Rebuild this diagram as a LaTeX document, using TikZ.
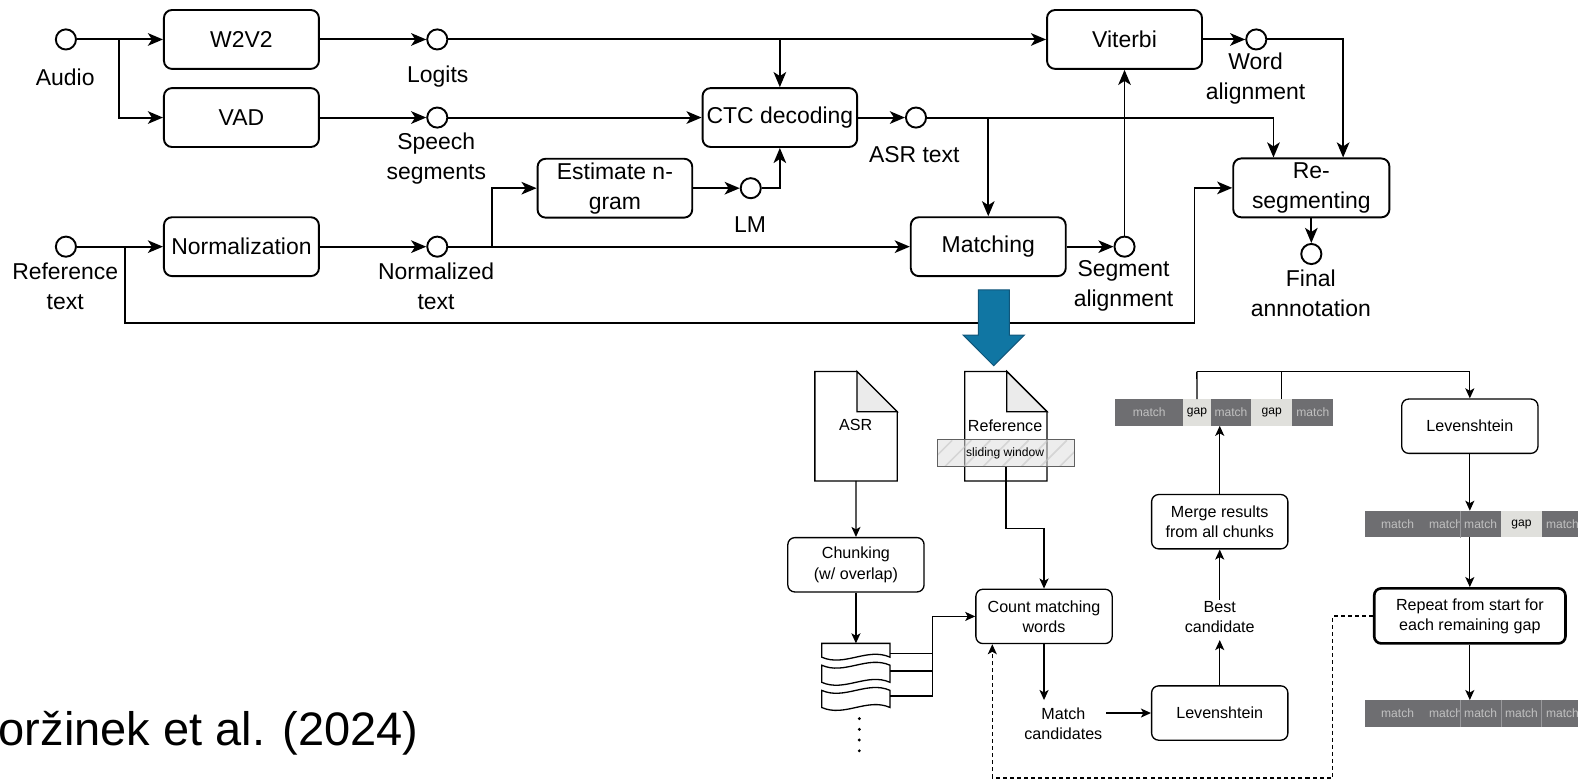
\documentclass[tikz,border=0pt]{standalone}
\usepackage{fontspec}
\setmainfont{Liberation Sans}
\usetikzlibrary{arrows.meta,calc}
\definecolor{barfill}{RGB}{110,110,113}
\definecolor{gapfill}{RGB}{224,224,220}
\definecolor{matchtxt}{RGB}{192,192,192}
\definecolor{bluefill}{RGB}{16,118,163}
\definecolor{blueline}{RGB}{16,86,122}
\definecolor{foldfill}{RGB}{235,235,235}
\begin{document}
\begin{tikzpicture}[x=1pt,y=-1pt,
  tl/.style={line width=1.9pt, -{Stealth[length=15pt,width=12.5pt,inset=4pt]}},
  tbox/.style={draw, line width=1.9pt, rounded corners=8pt, minimum width=154pt, minimum height=58.5pt, inner sep=0pt, align=center, font=\fontsize{22.8}{29.8}\selectfont},
  tcirc/.style={draw, circle, line width=1.9pt, minimum size=20pt, inner sep=0pt},
  tlab/.style={align=center, inner sep=0pt, font=\fontsize{22.8}{29.8}\selectfont},
  bl/.style={line width=1.3pt, -{Stealth[length=10pt,width=9pt,inset=2.5pt]}},
  bln/.style={line width=1.3pt},
  bbox/.style={draw, line width=1.3pt, rounded corners=7pt, minimum width=135.4pt, minimum height=54pt, inner sep=0pt, align=center, font=\fontsize{16}{20}\selectfont},
  blab/.style={align=center, inner sep=0pt, font=\fontsize{16}{20}\selectfont},
  mseg/.style={fill=barfill, text=matchtxt, minimum height=26.4pt, inner sep=0pt, anchor=west, font=\fontsize{12}{14}\selectfont},
  gseg/.style={fill=gapfill, text=black, minimum height=26.4pt, inner sep=0pt, anchor=west, font=\fontsize{12}{14}\selectfont},
  mtxt/.style={text=matchtxt, inner sep=0pt, font=\fontsize{12}{14}\selectfont},
  divl/.style={draw=barfill!70!white, line width=0.6pt},
]
\useasboundingbox (0,0) rectangle (1568,776);
\clip (0,0) rectangle (1568,776);

% ---------------- top pipeline ----------------
\node[tcirc] (audio) at (65.5,39.2) {};
\node[tlab] (audiol) at (64.8,76.5) {Audio};
\node[tbox] (w2v2) at (239.9,39.2) {W2V2};
\node[tbox] (vad) at (239.9,116.8) {VAD};
\node[tcirc] (ref) at (65.5,245.1) {};
\node[tlab] (refl) at (64.8,284.5) {Reference\\text};
\node[tbox] (norm) at (239.9,245.1) {Normalization};
\node[tcirc] (logits) at (434.5,39.2) {};
\node[tlab] (logitsl) at (435,76.5) {Logits};
\node[tcirc] (speech) at (434.5,116.8) {};
\node[tlab] (speechl) at (433.5,157.5) {Speech\\segments};
\node[tcirc] (normd) at (434.5,245.1) {};
\node[tlab] (normdl) at (433.3,284.5) {Normalized\\text};
\node[tbox, minimum width=153.6pt] (ctc) at (774.9,116.8) {CTC decoding};
\node[tcirc] (asr) at (910.2,116.8) {};
\node[tlab] (asrl) at (908.5,154) {ASR text};
\node[tbox, minimum width=153.7pt] (est) at (611,187) {Estimate n-\\gram};
\node[tcirc] (lm) at (746,187) {};
\node[tlab] (lml) at (745.3,223.6) {LM};
\node[tbox] (match) at (982,245.1) {Matching};
\node[tbox] (vit) at (1117.4,39.2) {Viterbi};
\node[tcirc] (seg) at (1117.4,245.1) {};
\node[tlab] (segl) at (1116.4,284.5) {Segment\\alignment};
\node[tcirc] (word) at (1248.3,39.2) {};
\node[tlab] (wordl) at (1247.6,78.5) {Word\\alignment};
\node[tbox, minimum width=155.2pt] (reseg) at (1303,186.7) {Re-\\segmenting};
\node[tcirc] (final) at (1303,252.4) {};
\node[tlab] (finall) at (1302.5,291.5) {Final\\annnotation};

\coordinate (ja) at (118.3,39.2);
\coordinate (jl) at (774.9,39.2);
\coordinate (rsax) at (1265.4,116.8);
\coordinate (jasr) at (982,116.8);
\coordinate (jn) at (488.8,245.1);
\coordinate (rsbx) at (1334.6,39.2);
\coordinate (jr) at (124.3,245.1);
\coordinate (rb1) at (124.3,321);
\coordinate (rb2) at (1186.9,321);

\draw[tl] (audio) -- (w2v2);
\draw[tl] (ja) |- (vad);
\draw[tl] (w2v2) -- (logits);
\draw[tl] (logits) -- (vit);
\draw[tl] (jl) -- (ctc);
\draw[tl] (vad) -- (speech);
\draw[tl] (speech) -- (ctc);
\draw[tl] (ctc) -- (asr);
\draw[tl] (asr) -- (rsax) -- (rsax |- reseg.north);
\draw[tl] (jasr) -- (match);
\draw[tl] (est) -- (lm);
\draw[tl] (lm) -| (ctc);
\draw[tl] (ref) -- (norm);
\draw[tl] (norm) -- (normd);
\draw[tl] (normd) -- (match);
\draw[tl] (jn) |- (est);
\draw[tl] (match) -- (seg);
\draw[tl] (seg) -- (vit);
\draw[tl] (vit) -- (word);
\draw[tl] (word) -- (rsbx) -- (rsbx |- reseg.north);
\draw[tl] (reseg) -- (final);
\draw[tl] (jr) -- (rb1) -- (rb2) |- (reseg);

% big blue arrow
\fill[bluefill, draw=blueline, line width=1pt] (972.2,288) -- (1003,288) -- (1003,332.9) -- (1017.8,332.9) -- (987.4,363.4) -- (957,332.9) -- (972.2,332.9) -- cycle;

% ---------------- bottom detail ----------------
% documents
\node[minimum width=81.4pt, minimum height=108.4pt, inner sep=0pt] (asrdoc) at (850.6,423.5) {};
\draw[bln, fill=white] (asrdoc.north west) -- ($(asrdoc.north east)+(-40,0)$) -- ($(asrdoc.north east)+(0,40)$) -- (asrdoc.south east) -- (asrdoc.south west) -- cycle;
\draw[bln, fill=foldfill] ($(asrdoc.north east)+(-40,0)$) -- ($(asrdoc.north east)+(-40,40)$) -- ($(asrdoc.north east)+(0,40)$) -- cycle;
\node[blab] (asrt) at (850.3,422.6) {ASR};

\node[minimum width=81.4pt, minimum height=108.4pt, inner sep=0pt] (refdoc) at (999.5,423.5) {};
\draw[bln, fill=white] (refdoc.north west) -- ($(refdoc.north east)+(-40,0)$) -- ($(refdoc.north east)+(0,40)$) -- (refdoc.south east) -- (refdoc.south west) -- cycle;
\draw[bln, fill=foldfill] ($(refdoc.north east)+(-40,0)$) -- ($(refdoc.north east)+(-40,40)$) -- ($(refdoc.north east)+(0,40)$) -- cycle;
\node[blab] (reft) at (998.7,422.6) {Reference};

% sliding window
\node[minimum width=135.4pt, minimum height=26.5pt, inner sep=0pt] (sw) at (999.5,450.5) {};
\fill[gray!25, fill opacity=0.55] (sw.north west) rectangle (sw.south east);
\begin{scope}
  \clip (sw.north west) rectangle (sw.south east);
  \foreach \k in {0,...,8} {
    \draw[gray!45, line width=1.6pt, opacity=0.6] ($(sw.south west)+(\k*19-12,0)$) -- ++(26.5,-26.5);
  }
\end{scope}
\draw[line width=1pt, draw=gray!75!black] (sw.north west) rectangle (sw.south east);
\node[inner sep=0pt, font=\fontsize{12}{14}\selectfont] (swt) at (998.7,450.5) {sliding window};

% boxes
\node[bbox] (chunk) at (850.5,561.2) {Chunking\\(w/ overlap)};
\node[bbox] (count) at (1037.4,612.5) {Count matching\\words};
\node[blab] (mc) at (1056.6,718.8) {Match\\candidates};
\node[bbox] (lev2) at (1212,708.5) {Levenshtein};
\node[blab] (bc) at (1212,612.8) {Best\\candidate};
\node[bbox] (merge) at (1212,518.4) {Merge results\\from all chunks};
\node[bbox] (lev1) at (1460.5,423.5) {Levenshtein};
\node[bbox, line width=2.6pt, minimum width=190pt, minimum height=54.7pt] (rep) at (1460.5,612) {Repeat from start for\\each remaining gap};

% chunks
\draw[bln, fill=white] (816.5,639.3) -- (884.4,639.3) -- (884.4,653) .. controls (861.8,643) and (839.1,663) .. (816.5,653) -- cycle;
\draw[bln, fill=white] (816.5,661) .. controls (839.1,671) and (861.8,651) .. (884.4,661) -- (884.4,678) .. controls (861.8,668) and (839.1,688) .. (816.5,678) -- cycle;
\draw[bln, fill=white] (816.5,686) .. controls (839.1,696) and (861.8,676) .. (884.4,686) -- (884.4,703) .. controls (861.8,693) and (839.1,713) .. (816.5,703) -- cycle;
\foreach \yy in {714,724.7,735.3,746} { \fill (853.9,\yy) circle [radius=1.6pt]; }

\coordinate (ck1) at (850.5,639.3);
\coordinate (c1r) at (884.4,649.2);
\coordinate (c2r) at (884.4,666.8);
\coordinate (c3r) at (884.4,691.6);
\coordinate (cjt) at (926.8,612.5);
\coordinate (swk) at (999.5,525);
\coordinate (mctop) at (1037.4,695.6);
\coordinate (mcr) at (1099,708.5);
\coordinate (bcb) at (1212,636);
\coordinate (bct) at (1212,596);
\coordinate (b1b) at (1212,423.1);

\draw[bl] (asrdoc) -- (chunk);
\draw[bl] (chunk) -- (ck1);
\draw[bln] (c1r) -- (c1r -| cjt);
\draw[bln] (c2r) -- (c2r -| cjt);
\draw[bl] (c3r) -| (cjt) -- (count);
\draw[bl] (sw.south) -- (swk) -| (count);
\draw[bl] (count) -- (mctop);
\draw[bl] (mcr) -- (lev2);
\draw[bl] (lev2) -- (bcb);
\draw[bl] (bct) -- (merge);
\draw[bl] (merge) -- (b1b);

% bar 1
\node[mseg, minimum width=67.5pt] (b1s1) at (1108,409.9) {match};
\node[gseg, minimum width=27.5pt] (b1s2) at (1175.5,409.9) {gap};
\node[mseg, minimum width=40pt] (b1s3) at (1203,409.9) {match};
\node[gseg, minimum width=41pt] (b1s4) at (1243,409.9) {gap};
\node[mseg, minimum width=40.6pt] (b1s5) at (1284,409.9) {match};

\coordinate (g1t) at (1189.25,369.3);
\coordinate (g2t) at (1273.6,369.3);
\coordinate (l1t) at (1460.5,369.3);
\draw[bln] (b1s2.north) -- (g1t);
\draw[bln] (b1s4.north -| g2t) -- (g2t);
\draw[bl] (g1t) -- (l1t) -- (lev1);

% bar 2
\node[mseg, minimum width=95.1pt] (b2s1) at (1355.7,520.7) {};
\node[mtxt] (b2t1) at (1388.7,520.7) {match};
\node[mtxt] (b2t2) at (1436.4,520.7) {match};
\node[mseg, minimum width=40.5pt] (b2s3) at (1450.8,520.7) {match};
\node[gseg, minimum width=40.7pt] (b2s4) at (1491.3,520.7) {gap};
\node[mseg, minimum width=40.7pt] (b2s5) at (1532,520.7) {match};
\draw[divl] (b2s3.north west) -- (b2s3.south west);

% bar 3
\node[mseg, minimum width=95.1pt] (b3s1) at (1355.7,708.8) {};
\node[mtxt] (b3t1) at (1388.7,708.8) {match};
\node[mtxt] (b3t2) at (1436.4,708.8) {match};
\node[mseg, minimum width=40.5pt] (b3s3) at (1450.8,708.8) {match};
\node[mseg, minimum width=40.7pt] (b3s4) at (1491.3,708.8) {match};
\node[mseg, minimum width=40.7pt] (b3s5) at (1532,708.8) {match};
\draw[divl] (b3s3.north west) -- (b3s3.south west);
\draw[divl] (b3s4.north west) -- (b3s4.south west);
\draw[divl] (b3s5.north west) -- (b3s5.south west);

\coordinate (b2t) at (1460.5,507.5);
\coordinate (b2b) at (1460.5,533.9);
\coordinate (b3t) at (1460.5,695.6);
\draw[bl] (lev1) -- (b2t);
\draw[bl] (b2b) -- (rep);
\draw[bl] (rep) -- (b3t);

% dashed feedback
\coordinate (dk1) at (1324.3,773);
\coordinate (dk2) at (986,773);
\draw[bl, dash pattern=on 4pt off 3pt] (rep.west) -| (dk1) -- (dk2) -- (dk2 |- count.south);

% citation
\node[anchor=base east, inner sep=0pt, font=\fontsize{46.7}{50}\selectfont] (cite) at (416,741) {oržinek et al. (2024)};
\end{tikzpicture}
\end{document}
